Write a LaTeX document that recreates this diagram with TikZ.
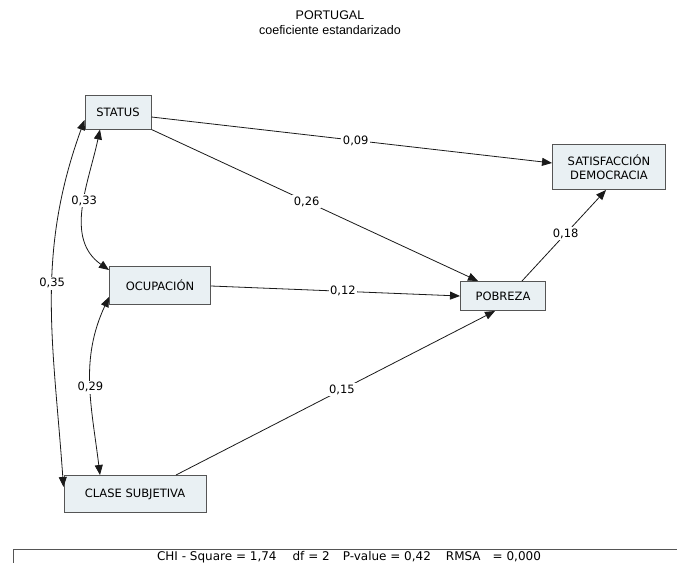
\documentclass[tikz,border=0pt]{standalone}
\usepackage{fontspec}
\setmainfont{DejaVu Sans}
\newfontfamily\titlefont{Liberation Sans}
\usetikzlibrary{arrows.meta,calc}
\definecolor{boxfill}{HTML}{E9F0F3}
\definecolor{boxline}{HTML}{555555}
\definecolor{edgecol}{HTML}{1A1A1A}
\begin{document}
\begin{tikzpicture}[x=1pt,y=1pt,
  varbox/.style={draw=boxline, line width=1pt, fill=boxfill, inner sep=0pt, align=center, font=\fontsize{11.5}{13.5}\selectfont},
  path/.style={draw=edgecol, line width=0.8pt, -{Triangle[length=10pt,width=8pt]}},
  corr/.style={draw=edgecol, line width=0.8pt, {Triangle[length=10pt,width=8pt]}-{Triangle[length=10pt,width=8pt]}},
  lbl/.style={fill=white, inner sep=1.5pt, font=\fontsize{11.5}{13.5}\selectfont, text=black}
]
\useasboundingbox (0,0) rectangle (677,-562);
\clip (0,0) rectangle (677,-562);
\fill[white] (0,0) rectangle (677,-562);

% title
\node[font=\titlefont\fontsize{12.5}{15}\selectfont, align=center] (title) at (330,-23) {PORTUGAL\\coeficiente estandarizado};

% variables
\node[varbox, minimum width=66pt, minimum height=34pt] (status) at (118,-112) {STATUS};
\node[varbox, minimum width=113pt, minimum height=45pt] (satis) at (609,-167) {SATISFACCIÓN\\DEMOCRACIA};
\node[varbox, minimum width=101pt, minimum height=38pt] (ocup) at (160,-285) {OCUPACIÓN};
\node[varbox, minimum width=85pt, minimum height=29pt] (pob) at (503,-296) {POBREZA};
\node[varbox, minimum width=142pt, minimum height=37pt] (clase) at (135,-494) {CLASE SUBJETIVA};

% directed paths
\draw[path] ($(status.east)+(0,-5)$) -- node[lbl, pos=0.51] {0,09} ($(satis.west)+(0,4)$);
\draw[path] (status.south east) -- node[lbl, pos=0.475] {0,26} ($(pob.north)+(-25,0)$);
\draw[path] ($(ocup.east)+(0,-1)$) -- node[lbl, pos=0.53] {0,12} (pob.west);
\draw[path] ($(clase.north)+(41,0)$) -- node[lbl, pos=0.52] {0,15} ($(pob.south)+(-8,0)$);
\draw[path] ($(pob.north)+(19,0)$) -- node[lbl, pos=0.52] {0,18} ($(satis.south)+(-3,0)$);

% correlations
\draw[corr] ($(status.south)+(-18,0)$) to[out=258,in=145] node[lbl, pos=0.45] {0,33} ($(ocup.west)+(0,15)$);
\draw[corr] ($(ocup.west)+(0,-12)$) to[out=245,in=97] node[lbl, pos=0.52] {0,29} ($(clase.north)+(-35,0)$);
\draw[corr] ($(status.west)+(0,-8)$) to[out=250,in=94] node[lbl, pos=0.45] {0,35} ($(clase.west)+(0,7)$);

% fit statistics
\draw[boxline, line width=1pt] (13,-549) rectangle (700,-600);
\node[font=\fontsize{12}{14}\selectfont, anchor=base, inner sep=0pt] (stats) at (349,-560) {CHI - Square = 1,74\hspace{16pt}df = 2\hspace{13pt}P-value = 0,42\hspace{15pt}RMSA\hspace{12pt}= 0,000};
\end{tikzpicture}
\end{document}
